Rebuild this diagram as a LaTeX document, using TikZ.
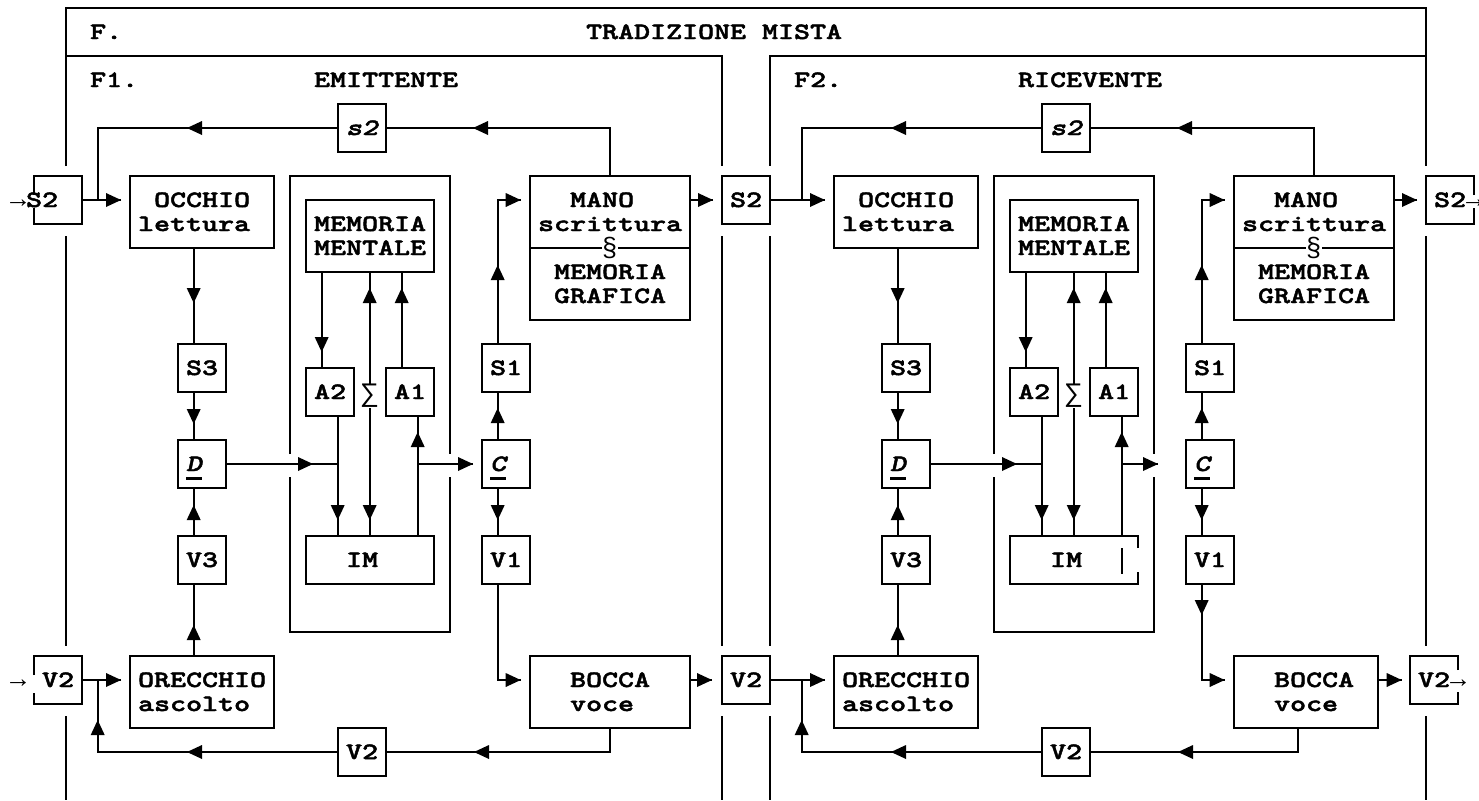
\documentclass[tikz,border=0pt]{standalone}
\usepackage{fontspec}
\setmonofont{Liberation Mono}
\newfontfamily\cour{lmmonolt10-bold.otf}[FakeStretch=1.3,FakeBold=2]
\newfontfamily\courit{lmmonolt10-boldoblique.otf}[FakeStretch=1.3,FakeBold=2]
\tikzset{
  ln/.style={line width=1.1pt},
  box/.style={draw, line width=1.1pt, rectangle, inner sep=0pt, outer sep=0pt},
  ghost/.style={draw=none, rectangle, inner sep=0pt, outer sep=0pt},
  lbl/.style={anchor=base west, inner sep=0pt, font=\cour\fontsize{11.72}{14}\selectfont},
  sym/.style={inner sep=0pt, fill=white, font=\ttfamily\mdseries\fontsize{13.33}{16}\selectfont},
}
\newcommand\bx[6][box]{\node[#1, minimum width={(#5-#3)*0.5pt}, minimum height={(#6-#4)*0.5pt}] (#2) at ({(#3+#5)/2},{(#4+#6)/2}) {};}
\newcommand\Tx[3]{\node[lbl] at (#1,{#2+7}) {#3};}
\newcommand\arw{{\ttfamily\mdseries\fontsize{13.33}{16}\selectfont →}}
\newcommand\aR[2]{\fill (#1,#2) -- ++(-15,-7) -- ++(0,14) -- cycle;}
\newcommand\aL[2]{\fill (#1,#2) -- ++(15,-7) -- ++(0,14) -- cycle;}
\newcommand\aD[2]{\fill (#1,#2) -- ++(-7,-15) -- ++(14,0) -- cycle;}
\newcommand\aU[2]{\fill (#1,#2) -- ++(-7,15) -- ++(14,0) -- cycle;}
\newcommand\panelcommon{%
  \bx{stop}{337.7}{104}{385.7}{152}
  \bx{occ}{129.7}{176}{273.7}{248}
  \bx{mem}{305.7}{200}{433.7}{272}
  \bx{atwo}{305.7}{368}{353.7}{416}
  \bx{aone}{385.7}{368}{433.7}{416}
  \bx{sthree}{177.7}{344}{225.7}{392}
  \bx{dd}{177.7}{440}{225.7}{488}
  \bx{vthree}{177.7}{536}{225.7}{584}
  \bx{ore}{129.7}{656}{273.7}{728}
  \bx{vbot}{337.7}{728}{385.7}{776}
  \bx{mano}{529.7}{176}{689.7}{320}
  \bx{sone}{481.7}{344}{529.7}{392}
  \bx{cc}{481.7}{440}{529.7}{488}
  \bx{vone}{481.7}{536}{529.7}{584}
  \draw[ln] (289.7,454) -- (289.7,176) -- (449.7,176) -- (449.7,454)
            (449.7,477) -- (449.7,632) -- (289.7,632) -- (289.7,477);
  \draw[ln] (mano.west |- 0,248) -- (mano.east |- 0,248);
  % texts
  \Tx{345.7}{128}{\courit s2}
  \Tx{153.7}{200}{OCCHIO}\Tx{137.7}{224}{lettura}
  \Tx{313.7}{224}{MEMORIA}\Tx{313.7}{248}{MENTALE}
  \Tx{313.7}{392}{A2}\Tx{393.7}{392}{A1}
  \Tx{185.7}{368}{S3}\Tx{185.7}{464}{\courit D}\Tx{185.7}{560}{V3}
  \Tx{137.7}{680}{ORECCHIO}\Tx{137.7}{704}{ascolto}
  \Tx{345.7}{752}{V2}
  \Tx{569.7}{200}{MANO}\Tx{537.7}{224}{scrittura}
  \Tx{553.7}{272}{MEMORIA}\Tx{553.7}{296}{GRAFICA}
  \Tx{489.7}{368}{S1}\Tx{489.7}{464}{\courit C}\Tx{489.7}{560}{V1}
  \Tx{569.7}{680}{BOCCA}\Tx{569.7}{704}{voce}
  \Tx{345.7}{560}{IM}
  \draw[line width=1.5pt] (186,478) -- (202,478);
  \draw[line width=1.5pt] (490,478) -- (506,478);
  \node[sym] (para) at (609.7,248) {§};
  % top loop
  \draw[ln] (mano.north) -- (609.7,128) -- (stop.east);
  \aL{473}{128}
  \draw[ln] (stop.west) -- (97.7,128) -- (97.7,200);
  \aL{187}{128}
  % eye / ear column
  \draw[ln] (occ.south -| 193.7,0) -- (sthree.north -| 193.7,0); \aD{193.7}{303}
  \draw[ln] (sthree.south -| 193.7,0) -- (dd.north -| 193.7,0); \aD{193.7}{424}
  \draw[ln] (vthree.north -| 193.7,0) -- (dd.south -| 193.7,0); \aU{193.7}{505}
  \draw[ln] (ore.north -| 193.7,0) -- (vthree.south -| 193.7,0); \aU{193.7}{625}
  % memory
  \draw[ln] (mem.south -| 321.7,0) -- (atwo.north -| 321.7,0); \aD{321.7}{352}
  \draw[ln] (mem.south -| 369.7,0) -- (369.7,536); \aU{369.7}{288}\aD{369.7}{520}
  \node[sym] (sigma) at (369.7,396) {∑};
  \draw[ln] (aone.north -| 401.7,0) -- (mem.south -| 401.7,0); \aU{401.7}{288}
  \draw[ln] (atwo.south -| 337.7,0) -- (337.7,536); \aD{337.7}{520}
  \draw[ln] (417.7,536) -- (aone.south -| 417.7,0); \aU{417.7}{432}
  \draw[ln] (dd.east |- 0,464) -- (337.7,464); \aR{313}{464}
  % hand / mouth column
  \draw[ln] (sone.north -| 497.7,0) -- (497.7,200) -- (520.7,200); \aU{497.7}{265}\aR{520.7}{200}
  \draw[ln] (cc.north -| 497.7,0) -- (sone.south -| 497.7,0); \aU{497.7}{408}
  \draw[ln] (cc.south -| 497.7,0) -- (vone.north -| 497.7,0); \aD{497.7}{520}
  \draw[ln] (vone.south -| 497.7,0) -- (497.7,680) -- (520.7,680); \aR{520.7}{680}
  \draw[ln] (mano.east |- 0,200) -- (713,200); \aR{713}{200}
  % bottom loop
  \draw[ln] (vbot.west) -- (97.7,752) -- (97.7,680); \aL{187}{752}\aU{97.7}{720}
}
\begin{document}
\begin{tikzpicture}[x=0.5pt,y=-0.5pt]
\useasboundingbox (0,0) rectangle (1479,800);
% frame
\draw[ln] (65.7,166) -- (65.7,8) -- (1425.7,8) -- (1425.7,166);
\draw[ln] (65.7,236) -- (65.7,646) (65.7,716) -- (65.7,800);
\draw[ln] (1425.7,236) -- (1425.7,646) (1425.7,716) -- (1425.7,800);
\draw[ln] (65.7,56) -- (721.7,56) -- (721.7,166) (721.7,236) -- (721.7,646) (721.7,716) -- (721.7,800);
\draw[ln] (1425.7,56) -- (769.7,56) -- (769.7,166) (769.7,236) -- (769.7,646) (769.7,716) -- (769.7,800);
\Tx{89.7}{32}{F.}
\Tx{585.7}{32}{TRADIZIONE MISTA}
\Tx{89.7}{80}{F1.}
\Tx{313.7}{80}{EMITTENTE}
\Tx{793.7}{80}{F2.}
\Tx{1017.7}{80}{RICEVENTE}
% input / output boxes
\bx[ghost]{s2in}{33.7}{176}{81.7}{224}
\draw[ln] (33.7,195) -- (s2in.north west) -- (s2in.north east) -- (s2in.south east) -- (s2in.south west) -- (33.7,208);
\Tx{9.7}{200}{\arw S2}
\bx[ghost]{v2in}{33.7}{656}{81.7}{704}
\draw[ln] (33.7,675) -- (v2in.north west) -- (v2in.north east) -- (v2in.south east) -- (v2in.south west) -- (33.7,693);
\Tx{9.7}{680}{\arw\hspace{8pt}V2}
\bx{s2mid}{721.7}{176}{769.7}{224}
\Tx{729.7}{200}{S2}
\bx{v2mid}{721.7}{656}{769.7}{704}
\Tx{729.7}{680}{V2}
\bx[ghost]{s2out}{1425.7}{176}{1473.7}{224}
\draw[ln] (1473.7,195) -- (s2out.north east) -- (s2out.north west) -- (s2out.south west) -- (s2out.south east) -- (1473.7,208);
\Tx{1433.7}{200}{S2\arw}
\bx[ghost]{v2out}{1409.7}{656}{1457.7}{704}
\draw[ln] (1457.7,670) -- (v2out.north east) -- (v2out.north west) -- (v2out.south west) -- (v2out.south east) -- (1457.7,692);
\Tx{1417.7}{680}{V2\arw}
% F1 panel
\begin{scope}[name prefix=e-]
  \panelcommon
  \bx{im}{305.7}{536}{433.7}{584}
  \bx{bocca}{529.7}{656}{689.7}{728}
  \draw[ln] (417.7,464) -- (473,464); \aR{473}{464}
  \draw[ln] (bocca.south) -- (609.7,752) -- (vbot.east); \aL{474}{752}
  \draw[ln] (bocca.east |- 0,680) -- (712,680); \aR{712}{680}
\end{scope}
% F2 panel
\begin{scope}[shift={(704,0)}, name prefix=r-]
  \panelcommon
  \bx[ghost]{im}{305.7}{536}{433.7}{584}
  \draw[ln] (433.7,548) -- (im.north east) -- (im.north west) -- (im.south west) -- (im.south east) -- (433.7,572);
  \draw[ln] (417.7,548) -- (417.7,574);
  \bx{bocca}{529.7}{656}{673.7}{728}
  \draw[ln] (417.7,464) -- (454,464); \aR{454}{464}
  \aD{497.7}{615}
  \draw[ln] (593.7,728) -- (593.7,752) -- (vbot.east); \aL{474}{752}
  \draw[ln] (bocca.east |- 0,680) -- (697.7,680); \aR{697.7}{680}
\end{scope}
% entries into the eye / ear of each panel
\draw[ln] (s2in.east) -- (121,200); \aR{121}{200}
\draw[ln] (v2in.east) -- (121,680); \aR{121}{680}
\draw[ln] (s2mid.east) -- (825,200); \aR{825}{200}
\draw[ln] (v2mid.east) -- (825,680); \aR{825}{680}
\end{tikzpicture}
\end{document}
